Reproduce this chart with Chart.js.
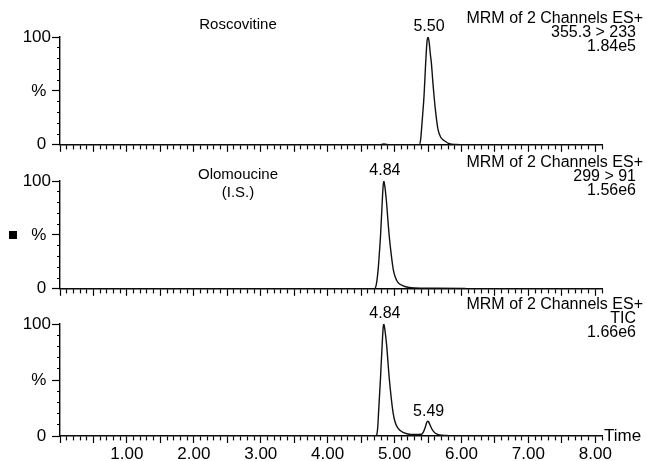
<!DOCTYPE html>
<html>
<head>
<meta charset="utf-8">
<script src="https://cdn.jsdelivr.net/npm/chart.js@4.4.1/dist/chart.umd.min.js"></script>
<style>
    body { margin: 0; background: #fff; }
    #wrap { position: relative; width: 647px; height: 461px; }
    canvas { position: absolute; left: 0; }
</style>
</head>
<body>
<div id="wrap">
    <canvas id="c1" width="647" height="156" style="top:0px"></canvas>
    <canvas id="c2" width="647" height="150" style="top:150px"></canvas>
    <canvas id="c3" width="647" height="170" style="top:292px"></canvas>
</div>
<script>
const roscoTime = [0, 4.78, 4.84, 4.92, 5.37, 5.39, 5.40, 5.42, 5.44, 5.465, 5.485, 5.50, 5.515, 5.535, 5.55, 5.57, 5.59, 5.62, 5.65, 5.69, 5.75, 5.82, 5.92, 6.02, 8.1];
const roscoPct  = [0, 0, 0.8, 0, 0, 5, 12, 28, 45, 76, 96, 100, 96, 84, 76, 60, 45, 27, 14, 7, 3.5, 1, 0.3, 0, 0];

const olomoTime = [0, 4.70, 4.72, 4.735, 4.755, 4.775, 4.79, 4.815, 4.83, 4.84, 4.855, 4.88, 4.90, 4.92, 4.95, 4.98, 5.01, 5.05, 5.12, 5.22, 5.40, 6.05, 6.10, 8.1];
const olomoPct  = [0, 0, 2, 7, 18, 35, 49, 80, 96, 100, 95, 80, 64, 49, 32, 18, 11, 6, 3, 1.2, 0.6, 0.4, 0, 0];

const ticTime = [0, 4.72, 4.74, 4.75, 4.76, 4.79, 4.815, 4.83, 4.84, 4.855, 4.88, 4.92, 4.95, 4.98, 5.01, 5.05, 5.12, 5.20, 5.30, 5.40, 5.43, 5.46, 5.48, 5.495, 5.51, 5.54, 5.57, 5.61, 5.67, 5.78, 5.90, 8.1];
const ticPct  = [0, 0, 3, 9, 20, 52, 82, 97, 100, 95, 82, 52, 34, 20, 12, 7, 3.5, 1.8, 1.3, 1.5, 3.5, 8, 12, 13.3, 12.5, 8.5, 5, 2.5, 1, 0.4, 0, 0];

// Etiquetas de picos
const roscoPeakLabels = ['5.50'];
const roscoPeakTimes = [5.50];
const roscoPeakPct = [100];
const olomoPeakLabels = ['4.84'];
const olomoPeakTimes = [4.84];
const olomoPeakPct = [100];
const ticPeakLabels = ['4.84', '5.49'];
const ticPeakTimes = [4.84, 5.495];
const ticPeakPct = [100, 13.3];

// Textos de cada panel
const roscoTitle = ['Roscovitine'];
const olomoTitle = ['Olomoucine', '(I.S.)'];
const roscoInfo = ['MRM of 2 Channels ES+', '355.3 > 233', '1.84e5'];
const olomoInfo = ['MRM of 2 Channels ES+', '299 > 91', '1.56e6'];
const ticInfo = ['MRM of 2 Channels ES+', 'TIC', '1.66e6'];

const xMin = 0;
const xMax = 8.1;
const xLabels = [1, 2, 3, 4, 5, 6, 7, 8];

const FONT = '"Liberation Sans", Arial, Helvetica, sans-serif';

function toPoints(times, values) {
    return times.map((t, i) => ({ x: t, y: values[i] }));
}

function isMajorX(v) {
    return Math.abs(v * 2 - Math.round(v * 2)) < 1e-6;
}

function makeChart(id, cfg) {
    const ctx = document.getElementById(id).getContext('2d');

    // Plugin para los textos y etiquetas de picos
    const textPlugin = {
        id: 'texts_' + id,
        afterDraw(chart) {
            const c = chart.ctx;
            const xs = chart.scales.x;
            const ys = chart.scales.y;
            c.save();
            c.fillStyle = '#000';
            c.font = '15px ' + FONT;
            c.textAlign = 'center';
            c.textBaseline = 'middle';
            cfg.title.forEach((t, i) => c.fillText(t, 238, cfg.titleY + i * 18));

            c.font = '16px ' + FONT;
            c.textAlign = 'right';
            cfg.info.forEach((t, i) => c.fillText(t, i === 0 ? 643 : 636, cfg.infoY + i * 14));

            c.font = '16px ' + FONT;
            c.textAlign = 'center';
            c.textBaseline = 'bottom';
            cfg.peakLabels.forEach((t, i) => {
                const px = xs.getPixelForValue(cfg.peakTimes[i]);
                const py = ys.getPixelForValue(cfg.peakPct[i]);
                c.fillText(t, px + 1, py - 2);
            });

            if (cfg.marker) {
                c.fillRect(9, 81, 8, 8);
            }
            if (cfg.showTime) {
                c.font = '17px ' + FONT;
                c.textAlign = 'left';
                c.textBaseline = 'middle';
                c.fillText('Time', xs.right + 2, ys.bottom);
            }
            c.restore();
        }
    };

    return new Chart(ctx, {
        type: 'line',
        data: {
            datasets: [{
                data: toPoints(cfg.times, cfg.values),
                borderColor: '#111',
                borderWidth: 1.4,
                pointRadius: 0,
                fill: false,
                cubicInterpolationMode: 'monotone'
            }]
        },
        options: {
            responsive: false,
            animation: false,
            layout: { padding: { top: cfg.padTop, right: 45, left: 0, bottom: 0 } },
            plugins: {
                legend: { display: false },
                tooltip: { enabled: false }
            },
            scales: {
                x: {
                    type: 'linear',
                    min: xMin,
                    max: xMax,
                    afterFit: s => { s.height = cfg.xHeight; },
                    border: { display: true, color: '#000', width: 1.4 },
                    grid: {
                        drawOnChartArea: false,
                        tickLength: 7,
                        tickColor: '#000',
                        tickWidth: 1.2,
                        tickBorderDash: c => isMajorX(c.tick.value) ? [] : [4, 20]
                    },
                    ticks: {
                        stepSize: 0.1,
                        autoSkip: false,
                        maxRotation: 0,
                        minRotation: 0,
                        padding: 1,
                        color: '#000',
                        font: { family: FONT, size: 17 },
                        callback: v => {
                            if (!cfg.showXLabels) return '';
                            const r = Math.round(v * 10) / 10;
                            return xLabels.includes(r) ? r.toFixed(2) : '';
                        }
                    }
                },
                y: {
                    min: 0,
                    max: 100,
                    afterFit: s => { s.width = 60; },
                    border: { display: true, color: '#000', width: 1.4 },
                    grid: {
                        drawOnChartArea: false,
                        tickLength: 8,
                        tickColor: '#000',
                        tickWidth: 1.2,
                        tickBorderDash: c => (c.tick.value % 50 === 0) ? [] : [0, 5, 3, 20]
                    },
                    ticks: {
                        stepSize: 10,
                        autoSkip: false,
                        padding: 1,
                        color: '#000',
                        font: { family: FONT, size: 17 },
                        callback: v => v === 100 ? '100' : v === 50 ? '% ' : v === 0 ? '0 ' : ''
                    }
                }
            }
        },
        plugins: [textPlugin]
    });
}

makeChart('c1', {
    times: roscoTime, values: roscoPct,
    peakLabels: roscoPeakLabels, peakTimes: roscoPeakTimes, peakPct: roscoPeakPct,
    title: roscoTitle, titleY: 25, info: roscoInfo, infoY: 19,
    padTop: 37, xHeight: 10, showXLabels: false
});

makeChart('c2', {
    times: olomoTime, values: olomoPct,
    peakLabels: olomoPeakLabels, peakTimes: olomoPeakTimes, peakPct: olomoPeakPct,
    title: olomoTitle, titleY: 25, info: olomoInfo, infoY: 13,
    padTop: 31, xHeight: 10, showXLabels: false, marker: true
});

makeChart('c3', {
    times: ticTime, values: ticPct,
    peakLabels: ticPeakLabels, peakTimes: ticPeakTimes, peakPct: ticPeakPct,
    title: [], titleY: 0, info: ticInfo, infoY: 13,
    padTop: 32, xHeight: 26, showXLabels: true, showTime: true
});
</script>
</body>
</html>
